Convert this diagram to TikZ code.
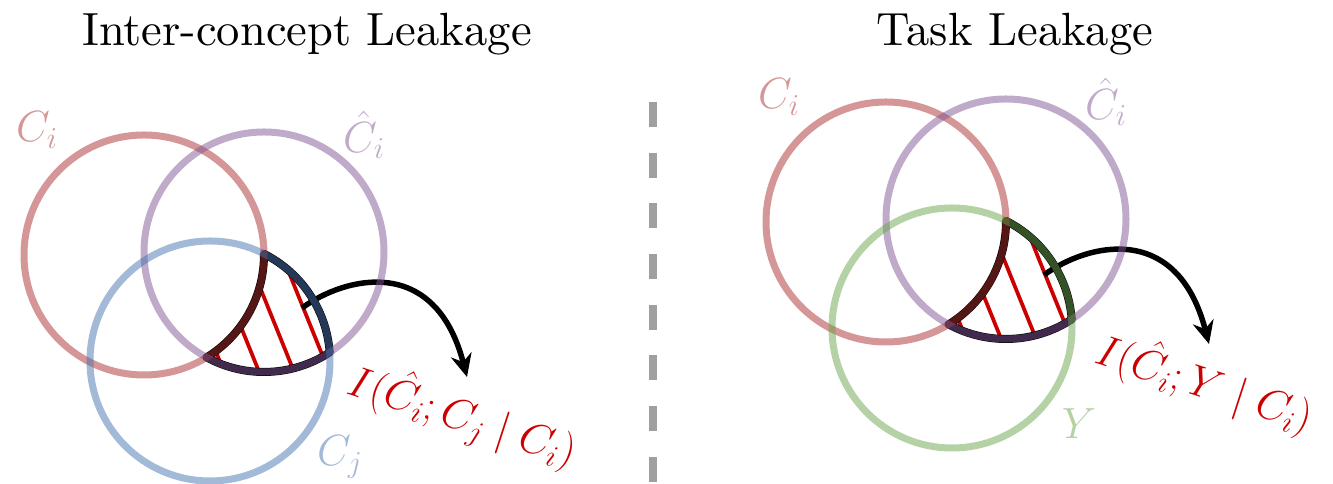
\documentclass[tikz,border=0pt]{standalone}
\usetikzlibrary{arrows.meta}
\definecolor{leakRed}{RGB}{170,45,45}
\definecolor{leakPurple}{RGB}{130,85,150}
\definecolor{leakBlue}{RGB}{70,115,175}
\definecolor{leakGreen}{RGB}{105,165,75}
\definecolor{leakHatch}{RGB}{204,0,0}
\definecolor{leakGray}{RGB}{160,160,160}
\font\leaktitlefont="[lmroman10-regular]:mapping=tex-text" at 26.5pt

\begin{document}
\begin{tikzpicture}[
  ring/.style={line width=0.14cm,draw opacity=0.5},
  setlabel/.style={text opacity=0.5,font=\fontsize{24}{28}\selectfont},
  title/.style={font=\leaktitlefont},
  milabel/.style={text=leakHatch,rotate=-18,font=\fontsize{24}{28}\selectfont},
  hatch/.style={leakHatch,line width=0.075cm},
  outline/.style={black,line width=0.16cm,line join=round},
  arrow/.style={-{Stealth[length=13pt,width=12pt]},black,line width=0.11cm}
]
  \useasboundingbox (0,0) rectangle (26.66,9.68);

  % titles and separator
  \node[title] (titleL) at (6.14,9.0) {Inter-concept Leakage};
  \node[title] (titleR) at (20.30,9.0) {Task Leakage};
  \coordinate (sepTop) at (13.06,7.64);
  \coordinate (sepBot) at (13.06,0);
  \draw[leakGray,line width=0.16cm,dash pattern=on 0.5cm off 0.514cm] (sepTop) -- (sepBot);

  % inter-concept leakage
  \begin{scope}
    \coordinate (ciL) at (2.88,4.58);
    \coordinate (hcL) at (5.28,4.64);
    \coordinate (cjL) at (4.20,2.46);
    \begin{scope}
      \clip (5.280,4.603) arc[start angle=63.25,end angle=4.11,radius=2.4]
        arc[start angle=-56.8,end angle=-118.58,radius=2.4]
        arc[start angle=-58.56,end angle=0.55,radius=2.4] -- cycle;
      \foreach \hx in {3.0,3.7,...,7.3}
        \draw[hatch] (\hx,2.446) ++(112:3) -- ++(-68:6);
    \end{scope}
    \draw[outline] (5.280,4.603) arc[start angle=63.25,end angle=4.11,radius=2.4]
      arc[start angle=-56.8,end angle=-118.58,radius=2.4]
      arc[start angle=-58.56,end angle=0.55,radius=2.4] -- cycle;
    \coordinate (fromL) at (6.04,3.52);
    \coordinate (toL) at (9.34,2.14);
    \draw[arrow] (fromL) .. controls (6.9,4.15) and (8.7,4.6) .. (toL);
    \draw[ring,leakRed] (ciL) circle (2.4);
    \draw[ring,leakPurple] (hcL) circle (2.4);
    \draw[ring,leakBlue] (cjL) circle (2.4);
    \node[setlabel,text=leakRed] (ciLabelL) at (0.74,7.08) {$C_i$};
    \node[setlabel,text=leakPurple] (hcLabelL) at (7.28,6.98) {$\hat{C}_i$};
    \node[setlabel,text=leakBlue] (cjLabelL) at (6.80,0.54) {$C_j$};
    \node[milabel] (miL) at (9.26,1.36) {$I(\hat{C}_i; C_j \mid C_i)$};
  \end{scope}

  % task leakage
  \begin{scope}[shift={(14.84,0.66)}]
    \coordinate (ciR) at (2.88,4.58);
    \coordinate (hcR) at (5.28,4.64);
    \coordinate (yR) at (4.20,2.46);
    \begin{scope}
      \clip (5.280,4.603) arc[start angle=63.25,end angle=4.11,radius=2.4]
        arc[start angle=-56.8,end angle=-118.58,radius=2.4]
        arc[start angle=-58.56,end angle=0.55,radius=2.4] -- cycle;
      \foreach \hx in {3.0,3.7,...,7.3}
        \draw[hatch] (\hx,2.446) ++(112:3) -- ++(-68:6);
    \end{scope}
    \draw[outline] (5.280,4.603) arc[start angle=63.25,end angle=4.11,radius=2.4]
      arc[start angle=-56.8,end angle=-118.58,radius=2.4]
      arc[start angle=-58.56,end angle=0.55,radius=2.4] -- cycle;
    \coordinate (fromR) at (6.04,3.52);
    \coordinate (toR) at (9.34,2.14);
    \draw[arrow] (fromR) .. controls (6.9,4.15) and (8.7,4.6) .. (toR);
    \draw[ring,leakRed] (ciR) circle (2.4);
    \draw[ring,leakPurple] (hcR) circle (2.4);
    \draw[ring,leakGreen] (yR) circle (2.4);
    \node[setlabel,text=leakRed] (ciLabelR) at (0.74,7.08) {$C_i$};
    \node[setlabel,text=leakPurple] (hcLabelR) at (7.28,6.98) {$\hat{C}_i$};
    \node[setlabel,text=leakGreen] (yLabelR) at (6.74,0.54) {$Y$};
    \node[milabel] (miR) at (9.26,1.36) {$I(\hat{C}_i; Y \mid C_i)$};
  \end{scope}
\end{tikzpicture}
\end{document}
